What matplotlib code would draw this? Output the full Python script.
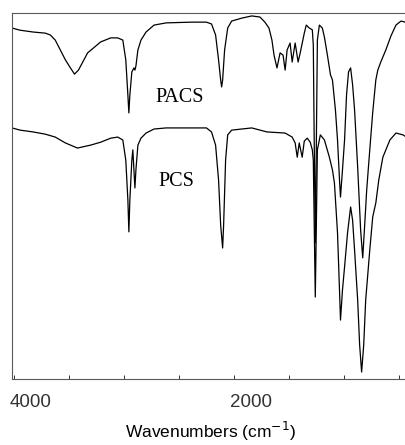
import matplotlib
matplotlib.use("Agg")
import matplotlib.pyplot as plt
import matplotlib.ticker as ticker
import matplotlib.transforms as mtransforms

# wavenumber (cm-1) and transmittance (a.u.)
pacs_wn = [4018, 3945, 3826, 3716, 3670, 3625, 3579, 3533, 3487, 3450, 3414, 3331,
           3212, 3121, 3057, 3011, 2984, 2965, 2956, 2947, 2929, 2910, 2901, 2892,
           2874, 2846, 2800, 2727, 2617, 2388, 2251, 2205, 2168, 2141, 2122, 2113,
           2104, 2086, 2058, 2022, 1930, 1839, 1765, 1720, 1683, 1656, 1637, 1610,
           1582, 1555, 1536, 1518, 1491, 1472, 1445, 1418, 1399, 1362, 1344, 1317,
           1289, 1280, 1271, 1262, 1253, 1243, 1225, 1198, 1179, 1152, 1124, 1106,
           1079, 1060, 1042, 1033, 1015, 996, 978, 960, 941, 923, 905, 877, 850,
           831, 813, 795, 767, 740, 712, 694, 667, 621, 575, 529, 483, 419]
pacs_t = [95.9, 95.3, 94.8, 94.5, 94.0, 92.6, 89.9, 87.2, 85.0, 83.3, 84.4, 89.1,
          92.1, 93.2, 93.2, 92.6, 87.2, 77.6, 72.7, 77.6, 83.9, 85.0, 84.4, 85.5,
          89.9, 92.6, 94.8, 96.7, 97.3, 97.5, 97.5, 97.0, 94.0, 87.2, 81.7, 79.8,
          81.7, 89.9, 95.9, 97.8, 98.6, 99.2, 98.9, 97.5, 95.9, 92.6, 88.5, 85.0,
          89.1, 88.5, 84.4, 89.9, 91.8, 86.6, 91.8, 86.6, 89.1, 94.5, 96.7, 95.9,
          95.4, 91.2, 62.6, 37.2, 62.6, 92.6, 96.7, 95.9, 93.4, 88.5, 83.1, 81.7,
          73.5, 65.3, 54.4, 49.7, 57.1, 65.3, 77.6, 83.9, 85.0, 80.4, 73.5, 57.9,
          40.7, 33.1, 42.1, 51.6, 62.6, 72.9, 81.7, 84.4, 86.6, 89.9, 93.7, 96.7,
          97.8, 97.3]

pcs_wn = [4018, 3945, 3826, 3716, 3625, 3533, 3423, 3304, 3212, 3121, 3057, 3011,
          2984, 2965, 2956, 2947, 2929, 2920, 2901, 2892, 2874, 2846, 2800, 2727,
          2617, 2251, 2205, 2168, 2141, 2122, 2104, 2095, 2077, 2058, 2022, 1839,
          1701, 1536, 1472, 1445, 1426, 1408, 1381, 1362, 1335, 1308, 1289, 1280,
          1271, 1262, 1253, 1243, 1216, 1179, 1134, 1106, 1088, 1060, 1042, 1033,
          1015, 996, 969, 941, 923, 905, 877, 859, 841, 822, 804, 767, 740, 712,
          685, 648, 584, 529, 465, 419]
pcs_t = [68.6, 68.0, 67.5, 66.9, 66.1, 64.5, 63.1, 63.9, 64.7, 65.8, 66.1, 65.3,
         59.8, 48.9, 40.2, 48.9, 59.8, 62.6, 52.2, 57.1, 63.9, 65.8, 67.2, 68.3,
         68.6, 68.6, 67.5, 63.9, 54.4, 42.1, 35.8, 42.1, 59.8, 66.7, 68.0, 68.6,
         67.5, 67.2, 66.1, 64.5, 60.6, 64.5, 60.6, 65.0, 65.8, 64.7, 62.6, 59.8,
         40.7, 22.4, 40.7, 62.6, 66.7, 65.3, 60.6, 57.1, 53.5, 39.9, 24.3, 16.1,
         24.3, 30.6, 39.9, 47.0, 43.4, 35.2, 21.6, 9.3, 1.9, 9.3, 21.6, 35.2, 44.3,
         48.1, 54.4, 60.6, 65.3, 67.2, 66.7, 65.8]

fig = plt.figure(figsize=(4.05, 4.45), dpi=100)
ax = fig.add_axes([12 / 405, 1 - 379 / 445, 1 - 12 / 405 + 0.01, (379 - 13) / 445])

ax.plot(pacs_wn, pacs_t, color="black", lw=0.9)
ax.plot(pcs_wn, pcs_t, color="black", lw=0.9)

ax.set_xlim(4018, 410)
ax.set_ylim(0, 100)

ax.text(2498, 77.0, "PACS", family="Liberation Serif", fontsize=14.5,
        ha="center", va="center")
ax.text(2525, 54.0, "PCS", family="Liberation Serif", fontsize=14.5,
        ha="center", va="center")

ax.xaxis.set_major_locator(ticker.FixedLocator([4000, 2000]))
ax.xaxis.set_minor_locator(ticker.MultipleLocator(500))
ax.tick_params(axis="x", which="both", direction="in", length=3, width=0.7,
               labelsize=13.5, pad=11, colors="0.2")
ax.set_yticks([])
# labels in the original sit to the right of their ticks
shift = mtransforms.ScaledTranslation(-4 / 100, 0, fig.dpi_scale_trans)
for lab in ax.get_xticklabels():
    lab.set_family("Liberation Sans")
    lab.set_horizontalalignment("left")
    lab.set_transform(lab.get_transform() + shift)
for side in ["left", "top", "bottom"]:
    ax.spines[side].set_color("0.35")
    ax.spines[side].set_linewidth(0.8)
ax.spines["right"].set_visible(False)

ax.set_xlabel("Wavenumbers (cm$^{-1}$)", family="Liberation Sans", fontsize=12.5,
              labelpad=6)

fig.savefig("out.png", dpi=100)
